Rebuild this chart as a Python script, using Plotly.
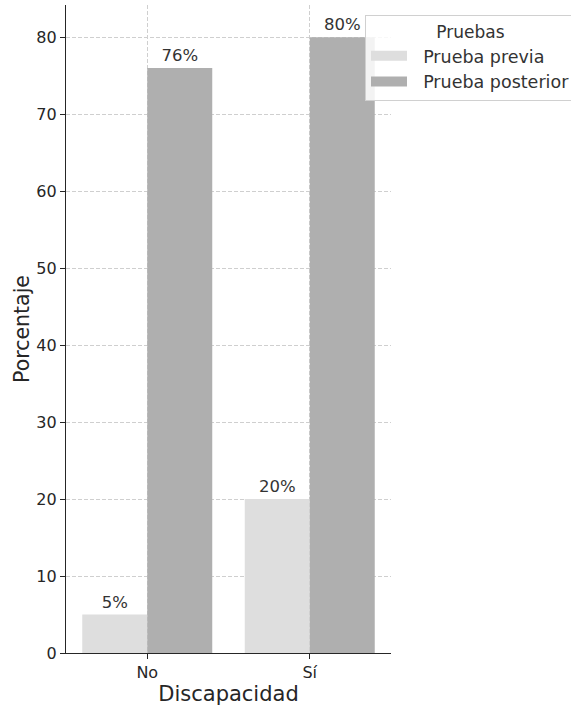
import plotly.graph_objects as go

categories = ["No", "Sí"]
prueba_previa = [5, 20]
prueba_posterior = [76, 80]
y_ticks = [0, 10, 20, 30, 40, 50, 60, 70, 80]

FONT = "DejaVu Sans"
TEXT = "#262626"
COLOR_PREVIA = "#dedede"
COLOR_POSTERIOR = "#afafaf"
PAD = "\u00a0\u00a0"

fig = go.Figure()
for name, values, color in [("Prueba previa", prueba_previa, COLOR_PREVIA),
                            ("Prueba posterior", prueba_posterior, COLOR_POSTERIOR)]:
    fig.add_trace(go.Bar(
        x=categories, y=values, name=name, showlegend=False,
        marker=dict(color=color, line=dict(width=0)),
        text=[f"{v}%" for v in values], textposition="outside",
        textfont=dict(family=FONT, size=16.5, color="#333333"), cliponaxis=False,
    ))

# Legend entries drawn as wide patches (thick line keys)
for name, color in [("Prueba previa", COLOR_PREVIA), ("Prueba posterior", COLOR_POSTERIOR)]:
    fig.add_trace(go.Scatter(
        x=[None], y=[None], mode="lines", name=PAD + name,
        line=dict(color=color, width=12), showlegend=True,
    ))

fig.update_layout(
    width=571, height=708,
    margin=dict(l=66, r=180, t=5, b=55, autoexpand=False),
    plot_bgcolor="white", paper_bgcolor="white",
    font=dict(family=FONT, size=16, color=TEXT),
    barmode="group", bargap=0.2, bargroupgap=0,
    showlegend=True,
    legend=dict(
        title=dict(text="Pruebas", side="top center", font=dict(size=17, color="#333333")),
        x=0.92, y=0.985, xanchor="left", yanchor="top",
        bgcolor="rgba(255,255,255,0.85)", bordercolor="#d0d0d0", borderwidth=1,
        font=dict(size=17.5, color="#333333"),
        tracegroupgap=0, itemwidth=36,
    ),
    xaxis=dict(
        title=dict(text="Discapacidad", font=dict(size=21), standoff=4),
        showline=True, linecolor="#262626", linewidth=1.3,
        ticks="outside", ticklen=5, tickcolor="#262626",
        showgrid=True, gridcolor="#cfcfcf", griddash="4px,2px", gridwidth=1,
        range=[-0.5, 1.5], tickfont=dict(size=16),
    ),
    yaxis=dict(
        title=dict(text="Porcentaje", font=dict(size=20.5), standoff=1),
        showline=True, linecolor="#262626", linewidth=1.3,
        ticks="outside", ticklen=5, tickcolor="#262626",
        showgrid=True, gridcolor="#cfcfcf", griddash="4px,2px", gridwidth=1,
        range=[0, 84.2], tickvals=y_ticks, zeroline=False,
        tickfont=dict(size=16),
    ),
)

fig.write_html("out.html")
